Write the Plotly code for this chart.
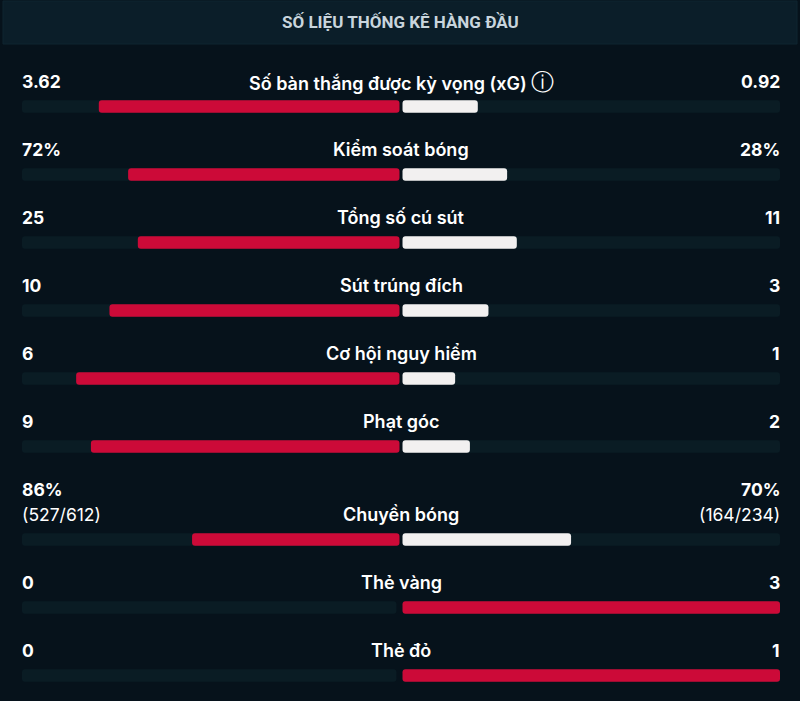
import plotly.graph_objects as go

# ---------------- data ----------------
title = "SỐ LIỆU THỐNG KÊ HÀNG ĐẦU"
labels = ["Số bàn thắng được kỳ vọng (xG)", "Kiểm soát bóng", "Tổng số cú sút",
          "Sút trúng đích", "Cơ hội nguy hiểm", "Phạt góc", "Chuyền bóng",
          "Thẻ vàng", "Thẻ đỏ"]
info_icon = [True, False, False, False, False, False, False, False, False]
home_vals = [3.62, 72, 25, 10, 6, 9, 86, 0, 0]
away_vals = [0.92, 28, 11, 3, 1, 2, 70, 3, 1]
home_text = [["3.62"], ["72%"], ["25"], ["10"], ["6"], ["9"], ["86%", "(527/612)"], ["0"], ["0"]]
away_text = [["0.92"], ["28%"], ["11"], ["3"], ["1"], ["2"], ["70%", "(164/234)"], ["3"], ["1"]]

# ---------------- styles ----------------
W, H = 800, 701
BG = "#06121b"
HEADER = "#0b1e29"
TRACK = "#0a1c24"
RED = "#cc0a38"
WHITE = "#f2f0f0"
FONT = "Inter"

n = len(labels)
first_bar = 106.5
row_step = 68
line_step = 25
gap = 0.004

ys = []
extra = 0
for i in range(n):
    extra_lines = max(len(home_text[i]), len(away_text[i])) - 1
    extra += extra_lines * line_step
    ys.append(first_bar + row_step * i + extra)

home_share = [h / (h + a) if (h + a) else 0 for h, a in zip(home_vals, away_vals)]
away_share = [a / (h + a) if (h + a) else 0 for h, a in zip(home_vals, away_vals)]
home_col = [RED if h >= a else WHITE for h, a in zip(home_vals, away_vals)]
away_col = [RED if a > h else WHITE for h, a in zip(home_vals, away_vals)]

bw = 12.5
mk = lambda c: dict(color=c, cornerradius=3, line=dict(width=0))
fig = go.Figure()
fig.add_trace(go.Bar(y=ys, x=[-(1 - gap * 3)] * n, base=[-gap * 3] * n, orientation="h",
                     width=bw, marker=mk(TRACK), hoverinfo="skip"))
fig.add_trace(go.Bar(y=ys, x=[(1 - gap)] * n, base=[gap] * n, orientation="h",
                     width=bw, marker=mk(TRACK), hoverinfo="skip"))
fig.add_trace(go.Bar(y=ys, x=[-(s - gap) if s > 0 else None for s in home_share],
                     base=[-gap] * n, orientation="h", width=bw,
                     marker=mk(home_col), hoverinfo="skip"))
fig.add_trace(go.Bar(y=ys, x=[(s - gap) if s > 0 else None for s in away_share],
                     base=[gap] * n, orientation="h", width=bw,
                     marker=mk(away_col), hoverinfo="skip"))

ann = []
for i in range(n):
    ly = ys[i] - 25
    txt = labels[i]
    if info_icon[i]:
        txt += " <span style='font-size:23px;font-weight:400'>ⓘ</span>"
    ann.append(dict(x=0, y=ly, xref="x", yref="y", text=txt, showarrow=False,
                    xanchor="center", yanchor="middle",
                    font=dict(family=FONT, size=18, color="#ffffff", weight=600)))
    hl = home_text[i]
    for k, t in enumerate(hl):
        yy = ly - line_step * (len(hl) - 1 - k)
        ann.append(dict(x=-1, y=yy, xref="x", yref="y", text=t, showarrow=False,
                        xanchor="left", yanchor="middle", xshift=-2,
                        font=dict(family=FONT, size=17.5, color="#ffffff",
                                  weight=700 if k == 0 else 400)))
    al = away_text[i]
    for k, t in enumerate(al):
        yy = ly - line_step * (len(al) - 1 - k)
        ann.append(dict(x=1, y=yy, xref="x", yref="y", text=t, showarrow=False,
                        xanchor="right", yanchor="middle", xshift=2,
                        font=dict(family=FONT, size=17.5, color="#ffffff",
                                  weight=700 if k == 0 else 400)))

ann.append(dict(x=0.5, y=22, xref="paper", yref="y", text=title, showarrow=False,
                xanchor="center", yanchor="middle",
                font=dict(family="Roboto", size=17, color="#c9d5dd", weight=700)))

fig.update_layout(
    width=W, height=H,
    margin=dict(l=0, r=0, t=0, b=0),
    paper_bgcolor=BG, plot_bgcolor=BG,
    barmode="overlay", showlegend=False,
    xaxis=dict(range=[-1, 1], domain=[22 / W, 780 / W], visible=False, fixedrange=True),
    yaxis=dict(range=[H, 0], domain=[0, 1], visible=False, fixedrange=True),
    shapes=[dict(type="rect", xref="paper", yref="y", x0=3 / W, x1=797 / W, y0=1, y1=44,
                 fillcolor=HEADER, line=dict(color="#0f2430", width=1), layer="below")],
    annotations=ann,
)

fig.write_html("out.html", config={"displayModeBar": False},
               post_script="document.body.style.margin='0';"
                           "document.body.style.background='#06121b';")
